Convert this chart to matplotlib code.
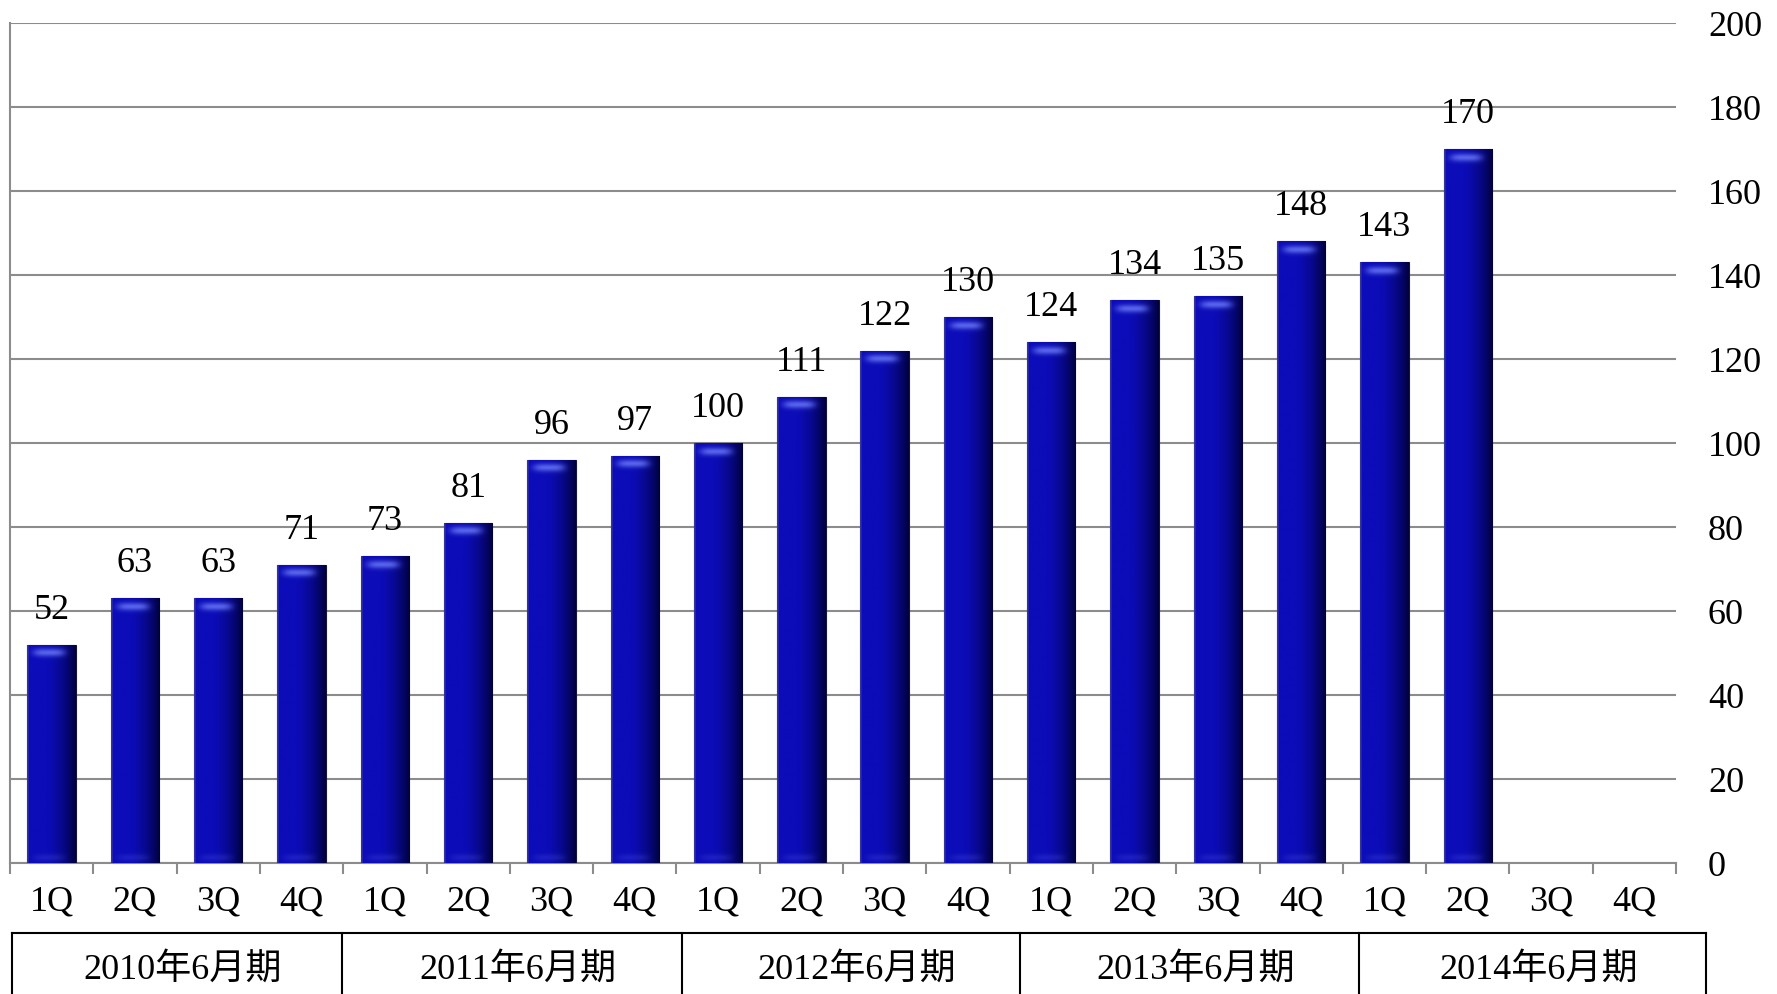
import numpy as np
import matplotlib.pyplot as plt
from matplotlib.colors import to_rgb
from matplotlib.lines import Line2D

plt.rcParams['font.family'] = ['Liberation Serif', 'Noto Sans CJK JP']

# quarterly values, 2010/6 .. 2014/6 fiscal years (3Q/4Q of 2014 not yet reported)
quarters = ['1Q', '2Q', '3Q', '4Q'] * 5
values = [52, 63, 63, 71, 73, 81, 96, 97, 100, 111,
          122, 130, 124, 134, 135, 148, 143, 170]
fiscal_years = ['2010年6月期', '2011年6月期', '2012年6月期',
                '2013年6月期', '2014年6月期']
yticks = list(range(0, 201, 20))

W, H = 1777, 994
fig = plt.figure(figsize=(W / 100, H / 100), dpi=100)
ax = fig.add_axes([10 / W, 1 - 863 / H, (1676 - 10) / W, (863 - 23) / H])

x = np.arange(len(values))
bars = ax.bar(x, values, width=0.58, color='#0a0aa0', edgecolor='#14143c',
              linewidth=0.8, zorder=3)

# glossy shading: horizontal light/dark gradient plus a highlight near the top
cols = 60
t = np.linspace(0, 1, cols)
light = np.array(to_rgb('#0c0cb8'))
dark = np.array(to_rgb('#000038'))
edge_l = np.array(to_rgb('#34349a'))
prof = np.clip(1.1 - 1.05 * t ** 2.6, 0, 1)
base = dark + (light - dark) * prof[:, None]
base[:2] = edge_l
hl = np.array(to_rgb('#5e6cf0'))
px_per_unit = 4.2
for b, v in zip(bars, values):
    rows = max(int(v * px_per_unit), 20)
    img = np.repeat(base[None, :, :], rows, axis=0)
    r = np.arange(rows)
    w_top = 0.9 * np.exp(-((r - 8) / 4.0) ** 2)
    w_bot = 0.2 * np.exp(-((r - (rows - 6)) / 3.5) ** 2)
    shape = np.exp(-((t - 0.45) / 0.33) ** 4)
    wgt = (w_top + w_bot)[:, None] * shape[None, :]
    img = img * (1 - wgt[..., None]) + hl * wgt[..., None]
    x0 = b.get_x()
    im = ax.imshow(img, extent=[x0, x0 + b.get_width(), 0, v], aspect='auto',
                   interpolation='bilinear', zorder=3.5)
    im.set_clip_path(b)

for xi, v in zip(x, values):
    ax.annotate(str(v), (xi, v), xytext=(0, 13), textcoords='offset points',
                ha='center', va='bottom', fontsize=26)

ax.set_xlim(-0.5, 19.5)
ax.set_ylim(0, 200)

ax.set_yticks(yticks)
ax.yaxis.tick_right()
ax.tick_params(axis='y', length=0, pad=23, labelsize=26)
for lab in ax.get_yticklabels():
    lab.set_horizontalalignment('left')
ax.grid(axis='y', color='#8c8c8c', linewidth=1.5, zorder=0)

ax.set_xticks(np.arange(-0.5, 20, 1))
ax.set_xticklabels([])
ax.tick_params(axis='x', which='major', length=8, width=1.5, color='#8c8c8c')
ax.set_xticks(np.arange(20), minor=True)
ax.set_xticklabels(quarters, minor=True, fontsize=26)
ax.tick_params(axis='x', which='minor', length=0, pad=16)

for s in ['top', 'right']:
    ax.spines[s].set_visible(False)
for s in ['left', 'bottom']:
    ax.spines[s].set_color('#8c8c8c')
    ax.spines[s].set_linewidth(1.5)

# fiscal-year boxes below the quarter labels
edges = [12, 342, 682, 1020, 1359, 1706]
top = 933
fig.add_artist(Line2D([edges[0] / W, edges[-1] / W], [1 - top / H] * 2,
                      color='black', lw=1.5, transform=fig.transFigure))
for xe in edges:
    fig.add_artist(Line2D([xe / W, xe / W], [1 - top / H, 0],
                          color='black', lw=1.5, transform=fig.transFigure))
for i, lab in enumerate(fiscal_years):
    cx = (edges[i] + edges[i + 1]) / 2 + 6
    fig.text(cx / W, 1 - 970 / H, lab, ha='center', va='center', fontsize=26)

fig.savefig('out.png', dpi=100)
